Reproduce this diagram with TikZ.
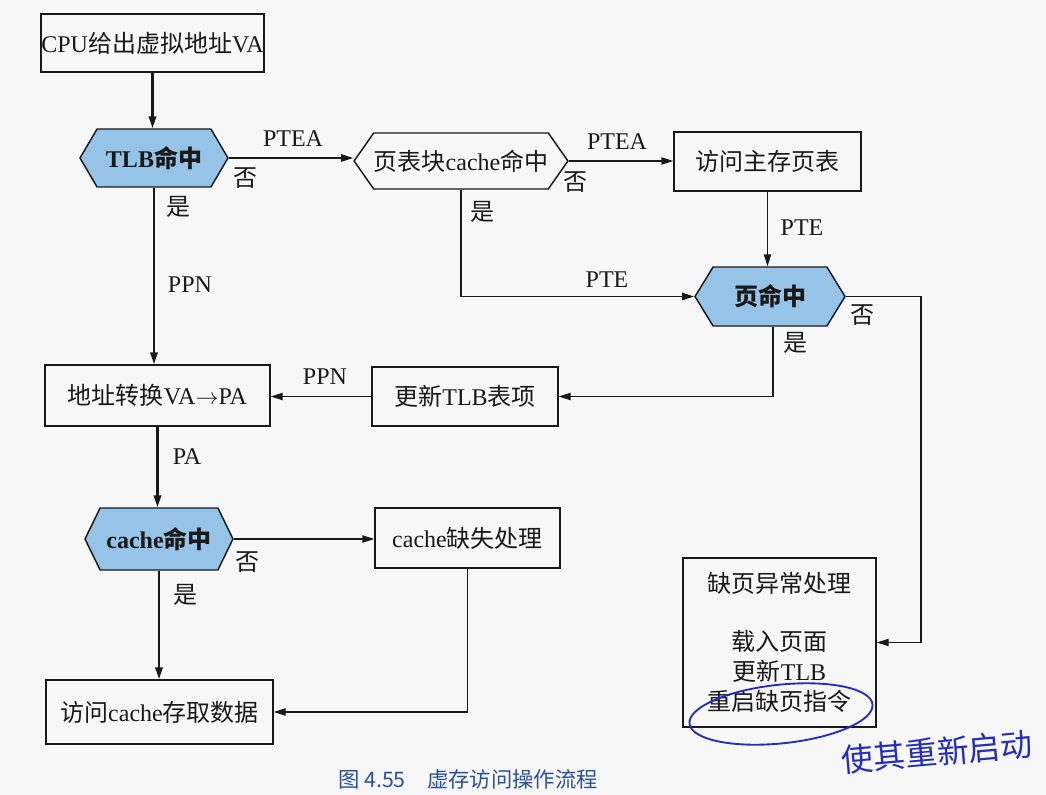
\documentclass[tikz,border=0pt]{standalone}
\usepackage{fontspec}
\setmainfont{Liberation Serif}
\newfontfamily\cjk{Noto Sans CJK SC}
\usetikzlibrary{shapes.symbols,arrows.meta,calc}
\definecolor{hexblue}{RGB}{150,195,232}
\definecolor{paper}{RGB}{247,247,247}
\definecolor{ink}{RGB}{25,25,25}
\definecolor{pen}{RGB}{35,45,190}
\definecolor{capblue}{RGB}{40,80,160}
\begin{document}
\begin{tikzpicture}[x=0.75pt,y=-0.75pt,
  every node/.style={font=\fontsize{18}{21}\selectfont, text=ink},
  box/.style={draw=ink, line width=1.1pt, rectangle, inner sep=0pt},
  hex/.style={draw=ink, line width=1.1pt, signal, signal to=west and east, inner sep=0pt},
  hit/.style={hex, fill=hexblue, font=\fontsize{18}{21}\selectfont\bfseries},
  flow/.style={draw=ink, line width=1.1pt, -{Triangle[length=9pt,width=5.5pt]}},
  main/.style={flow, line width=1.8pt},
  thin/.style={flow, line width=0.9pt},
  lab/.style={inner sep=0pt}
]
\fill[paper] (0,0) rectangle (1046,795);
\useasboundingbox (0,0) rectangle (1046,795);

% nodes
\node[box, minimum width=167.25pt, minimum height=43.5pt] (cpu) at (152.5,43) {CPU{\cjk 给出虚拟地址}VA};
\node[hit, signal pointer angle=119, minimum width=111pt, minimum height=43.5pt] (tlb) at (154,158) {TLB{\cjk 命中}};
\node[hex, signal pointer angle=110, minimum width=151.5pt, minimum height=42pt] (ptc) at (461,161) {{\cjk 页表块}cache{\cjk 命中}};
\node[box, minimum width=140.25pt, minimum height=44.25pt] (mem) at (767.5,161.5) {{\cjk 访问主存页表}};
\node[hit, signal pointer angle=117, minimum width=112.5pt, minimum height=44.25pt] (page) at (770,296.5) {{\cjk 页命中}};
\node[box, minimum width=139.5pt, minimum height=44.25pt] (utlb) at (465,396.5) {{\cjk 更新}TLB{\cjk 表项}};
\node[box, minimum width=168.75pt, minimum height=45.75pt] (addr) at (157.5,395.5) {{\cjk 地址转换}VA$\rightarrow$PA};
\node[hit, signal pointer angle=128, minimum width=111pt, minimum height=46.5pt] (chit) at (159,539) {cache{\cjk 命中}};
\node[box, minimum width=138.75pt, minimum height=45pt] (cmiss) at (467.5,538) {cache{\cjk 缺失处理}};
\node[box, minimum width=170.25pt, minimum height=48pt] (acc) at (159.5,712) {{\cjk 访问}cache{\cjk 存取数据}};
\node[box, minimum width=144.75pt, minimum height=126.75pt, align=center, font=\fontsize{18}{22.5}\selectfont] (pf) at (779.5,642.5)
  {{\cjk 缺页异常处理}\\[21pt]{\cjk 载入页面}\\{\cjk 更新}TLB\\{\cjk 重启缺页指令}};

% connectors
\draw[main] (cpu.south) -- (cpu.south |- tlb.north);
\draw[flow] (tlb.east) -- (tlb.east -| ptc.west);
\draw[flow] (ptc.east) -- (ptc.east -| mem.west);
\draw[flow] (ptc.south) -- (ptc.south |- page.west) -- (page.west);
\draw[flow] (mem.south) -- (mem.south |- page.north);
\coordinate (c1) at (921,296.5);
\draw[thin] (page.east) -- (c1) |- (pf.east);
\draw[flow] ([xshift=2.25pt]page.south) |- (utlb.east);
\draw[flow] (utlb.west) -- (utlb.west -| addr.east);
\draw[main] (tlb.south) -- (tlb.south |- addr.north);
\draw[main] (addr.south) -- (addr.south |- chit.north);
\draw[flow] (chit.east) -- (chit.east -| cmiss.west);
\draw[main] (chit.south) -- (chit.south |- acc.north);
\draw[flow] (cmiss.south) |- (acc.east);

% labels
\node[lab] (l1) at (293,139) {PTEA};
\node[lab] (l2) at (245,178) {\cjk 否};
\node[lab] (l3) at (178,207) {\cjk 是};
\node[lab] (l4) at (190,285) {PPN};
\node[lab] (l5) at (617,142) {PTEA};
\node[lab] (l6) at (575,182) {\cjk 否};
\node[lab] (l7) at (482,212) {\cjk 是};
\node[lab] (l8) at (607,280) {PTE};
\node[lab] (l9) at (802,228) {PTE};
\node[lab] (l10) at (862,315) {\cjk 否};
\node[lab] (l11) at (795,343) {\cjk 是};
\node[lab] (l12) at (325,377) {PPN};
\node[lab] (l13) at (187,457) {PA};
\node[lab] (l14) at (247,562) {\cjk 否};
\node[lab] (l15) at (185,595) {\cjk 是};

% handwritten annotation
\draw[pen, line width=1.4pt, rotate around={6:(781,714)}] (781,714) ellipse [x radius=69pt, y radius=22pt];
\node[text=pen, font=\cjk\fontsize{24}{24}\selectfont, rotate=5, inner sep=0pt] (hw) at (937,752) {使其重新启动};

% caption
\node[anchor=west, text=capblue, font=\cjk\fontsize{16}{18}\selectfont, inner sep=0pt] (cap) at (338,779) {图 4.55\quad 虚存访问操作流程};
\end{tikzpicture}
\end{document}
